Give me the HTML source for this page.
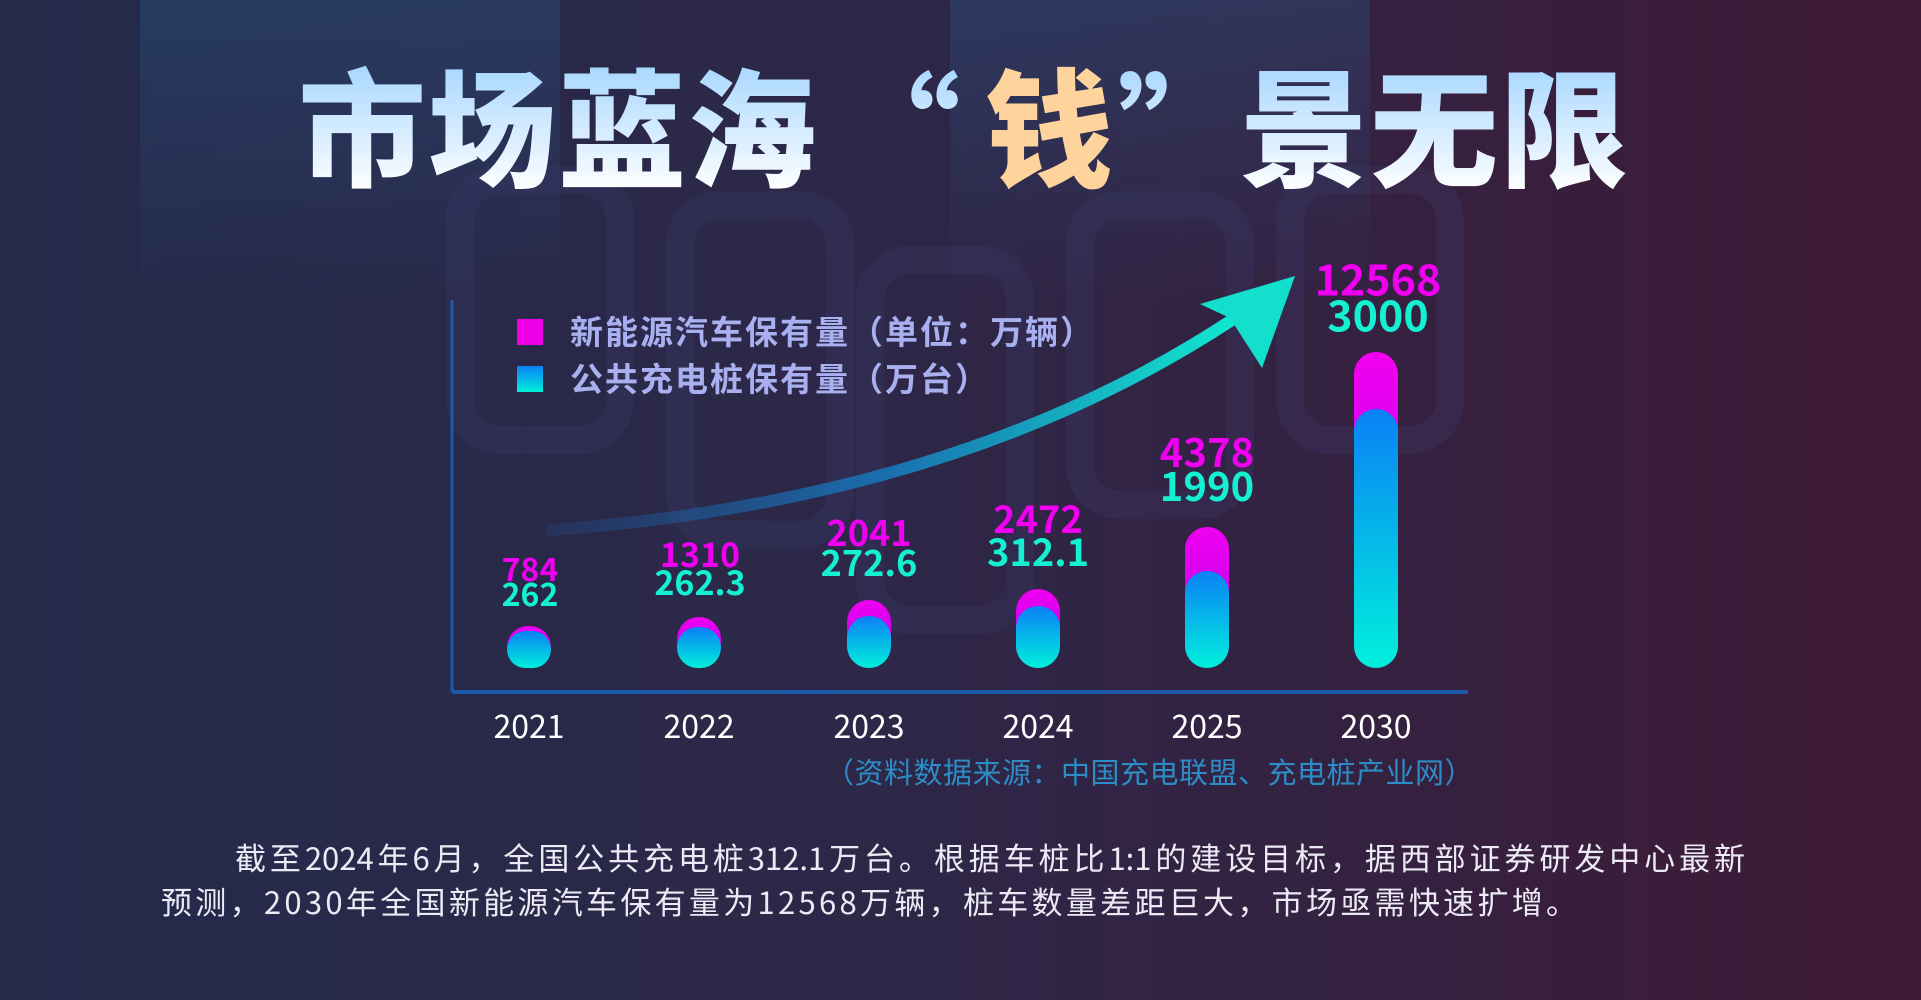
<!DOCTYPE html>
<html><head><meta charset="utf-8"><style>
*{margin:0;padding:0}
body{width:1921px;height:1000px;overflow:hidden;position:relative;background:linear-gradient(90deg,#242b4b 0%,#2d2748 45%,#36203f 75%,#3f1a36 100%);font-family:"Liberation Sans","Noto Sans CJK SC",sans-serif}
.abs{position:absolute}
.t{position:absolute;top:52px;font-family:"Noto Sans CJK SC",sans-serif;font-weight:900;font-size:128px;line-height:140px;background:linear-gradient(180deg,#9fd3ff,#ffffff);-webkit-background-clip:text;background-clip:text;color:transparent;white-space:nowrap}
.num{position:absolute;transform:translate(-50%,-50%);font-family:"Noto Sans CJK SC",sans-serif;font-weight:700;white-space:nowrap;line-height:1}
.p{color:#f000f0}.c{color:#14f0d2}
.yr{position:absolute;top:702px;transform:translateX(-50%);color:#fff;font-size:32px;font-family:"Noto Sans CJK SC",sans-serif}
.bar{position:absolute;width:44px;border-radius:22px}
.pk{background:linear-gradient(180deg,#f000f0,#b000f0)}
.bl{background:linear-gradient(180deg,#0a80f5,#00f0dc)}
.leg{position:absolute;left:570px;color:#a8b0f0;font-size:33px;font-weight:700;font-family:"Noto Sans CJK SC",sans-serif;letter-spacing:2px}
.txt{position:absolute;color:#eceaf4;font-size:31px;font-family:"Noto Sans CJK SC",sans-serif;white-space:nowrap}
</style></head><body>
<svg class="abs" style="left:0;top:0" width="1921" height="1000">
<defs><linearGradient id="bg1" x1="0" y1="0" x2="0" y2="1"><stop offset="0" stop-color="#2a5a8a" stop-opacity=".35"/><stop offset="1" stop-color="#2a5a8a" stop-opacity="0"/></linearGradient>
<linearGradient id="ar" x1="0" y1="0" x2="1" y2="0"><stop offset="0" stop-color="#1a5aa0" stop-opacity=".2"/><stop offset=".5" stop-color="#1a70b0"/><stop offset="1" stop-color="#10e8d0"/></linearGradient></defs>
<rect x="140" y="0" width="420" height="300" fill="url(#bg1)"/>
<rect x="950" y="0" width="420" height="300" fill="url(#bg1)"/>
<g fill="none" stroke="#3a3a6a" stroke-opacity=".3" stroke-width="28">
<rect x="460" y="180" width="160" height="260" rx="40"/>
<rect x="680" y="205" width="160" height="330" rx="40"/>
<rect x="870" y="260" width="150" height="360" rx="40"/>
<rect x="1080" y="205" width="160" height="300" rx="40"/>
<rect x="1290" y="180" width="160" height="260" rx="40"/>
</g>
<line x1="452" y1="300" x2="452" y2="692" stroke="#1a5aa8" stroke-width="3"/>
<line x1="452" y1="692" x2="1468" y2="692" stroke="#1a5aa8" stroke-width="4"/>
<path d="M551 530 Q 960 500 1235 318" fill="none" stroke="url(#ar)" stroke-width="12" stroke-linecap="round"/>
<path d="M1295 276 L1200 304 L1230 318 L1262 368 Z" fill="#12e0cc"/>
</svg>
<div class="t" style="left:298px;letter-spacing:2px">市场蓝海</div>
<div class="t" style="left:840px;font-size:120px">“</div>
<div class="t" style="left:985px;background:none;color:#ffd49c">钱</div>
<div class="t" style="left:1118px;font-size:120px">”</div>
<div class="t" style="left:1240px;letter-spacing:2px">景无限</div>

<div class="abs" style="left:517px;top:319px;width:26px;height:26px;background:#f000e8"></div>
<div class="abs" style="left:517px;top:366px;width:26px;height:26px;background:linear-gradient(180deg,#0a80f5,#00f0dc)"></div>
<div class="leg" style="top:306px">新能源汽车保有量（单位：万辆）</div>
<div class="leg" style="top:353px">公共充电桩保有量（万台）</div>

<div class="bar pk" style="left:507px;top:626px;height:42px"></div><div class="bar bl" style="left:507px;top:631px;height:37px"></div>
<div class="bar pk" style="left:677px;top:617px;height:51px"></div><div class="bar bl" style="left:677px;top:627px;height:41px"></div>
<div class="bar pk" style="left:847px;top:600px;height:68px"></div><div class="bar bl" style="left:847px;top:616px;height:52px"></div>
<div class="bar pk" style="left:1016px;top:589px;height:79px"></div><div class="bar bl" style="left:1016px;top:606px;height:62px"></div>
<div class="bar pk" style="left:1185px;top:527px;height:141px"></div><div class="bar bl" style="left:1185px;top:571px;height:97px"></div>
<div class="bar pk" style="left:1354px;top:352px;height:316px"></div><div class="bar bl" style="left:1354px;top:409px;height:259px"></div>

<div class="num p" style="left:530px;top:568px;font-size:32px">784</div><div class="num c" style="left:530px;top:593px;font-size:32px">262</div>
<div class="num p" style="left:700px;top:553px;font-size:34px">1310</div><div class="num c" style="left:700px;top:581px;font-size:34px">262.3</div>
<div class="num p" style="left:869px;top:531px;font-size:36px">2041</div><div class="num c" style="left:869px;top:561px;font-size:36px">272.6</div>
<div class="num p" style="left:1038px;top:517px;font-size:38px">2472</div><div class="num c" style="left:1038px;top:550px;font-size:38px">312.1</div>
<div class="num p" style="left:1207px;top:450px;font-size:40px">4378</div><div class="num c" style="left:1207px;top:484px;font-size:40px">1990</div>
<div class="num p" style="left:1378px;top:278px;font-size:43px">12568</div><div class="num c" style="left:1378px;top:314px;font-size:43px">3000</div>

<div class="yr" style="left:529px">2021</div><div class="yr" style="left:699px">2022</div><div class="yr" style="left:869px">2023</div>
<div class="yr" style="left:1038px">2024</div><div class="yr" style="left:1207px">2025</div><div class="yr" style="left:1376px">2030</div>
<div class="abs" style="left:825px;top:750px;color:#2d8cc6;font-size:29px;font-family:'Noto Sans CJK SC',sans-serif;white-space:nowrap;letter-spacing:0.5px">（资料数据来源：中国充电联盟、充电桩产业网）</div>

<div class="txt" style="left:235px;top:834px;width:1510px;text-align:justify;text-align-last:justify">截至2024年6月，全国公共充电桩312.1万台。根据车桩比1:1的建设目标，据西部证券研发中心最新</div>
<div class="txt" style="left:161px;top:878px;letter-spacing:3.3px">预测，2030年全国新能源汽车保有量为12568万辆，桩车数量差距巨大，市场亟需快速扩增。</div>
</body></html>
